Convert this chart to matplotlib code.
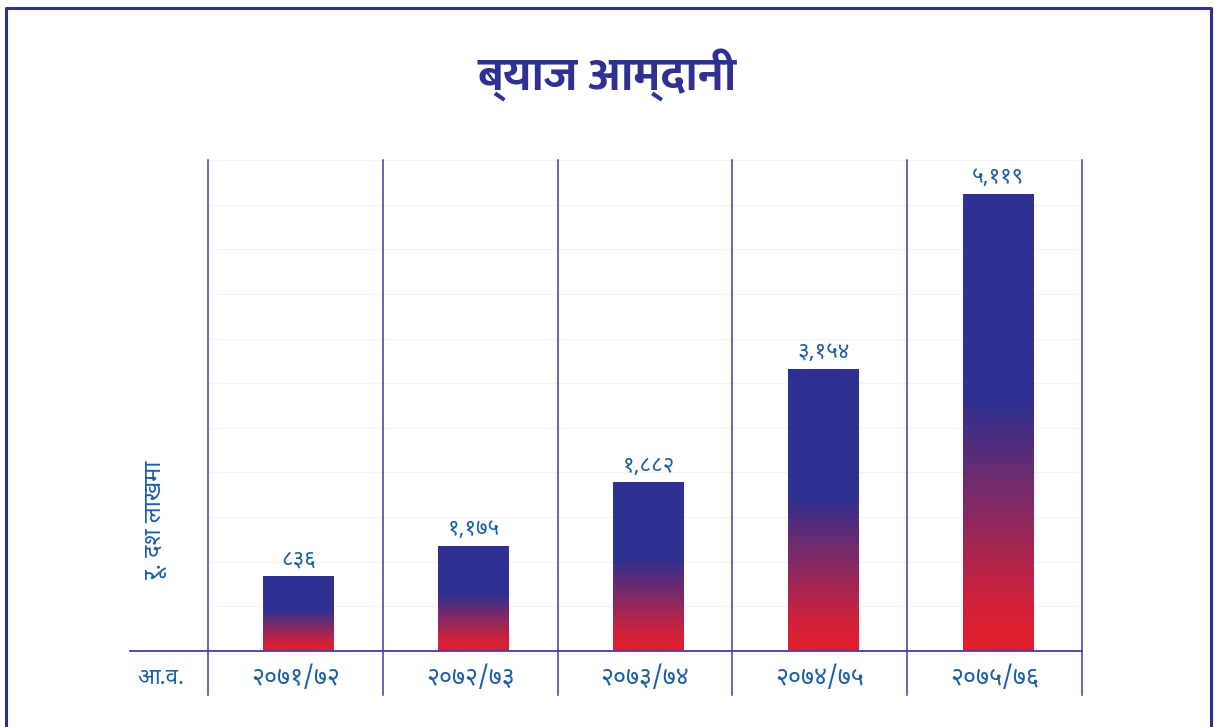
import numpy as np
import matplotlib
matplotlib.use("Agg")
import matplotlib.pyplot as plt
from matplotlib import font_manager
from matplotlib.colors import LinearSegmentedColormap
from matplotlib.lines import Line2D

# data
years = ["२०७१/७२", "२०७२/७३", "२०७३/७४", "२०७४/७५", "२०७५/७६"]
values = [836, 1175, 1882, 3154, 5119]
title = "ब्याज आम्दानी"
ylabel = "रू. दश लाखमा"
xlabel = "आ.व."

# pick an installed Devanagari font
names = {f.name for f in font_manager.fontManager.ttflist}
fam = "DejaVu Sans"
for c in ["Noto Sans Devanagari", "Mukta", "Hind", "Ek Mukta", "Poppins", "FreeSans"]:
    if c in names:
        fam = c
        break
# title needs a real bold cut
tfam = fam
for c in ["Ek Mukta", "Mukta", "Hind", "Biryani"]:
    if c in names:
        tfam = c
        break
plt.rcParams['font.family'] = [fam, 'DejaVu Sans']

DEV = "०१२३४५६७८९"


def to_dev(n):
    s = f"{n:,}"
    return "".join(DEV[int(ch)] if ch.isdigit() else ch for ch in s)


dark = "#2e3192"
red = "#e31e2a"
txt = "#1b5ea9"
line = "#3f3f9e"

fig = plt.figure(figsize=(12.15, 7.27), dpi=100)
ax = fig.add_axes([208 / 1215, 1 - 651 / 727, 874 / 1215, 491 / 727])

cmap = LinearSegmentedColormap.from_list("g", [(0, red), (0.1, "#d2213a"), (0.55, dark), (1, dark)])
grad = np.linspace(1, 0, 256).reshape(-1, 1)
x = np.arange(len(years)) + 0.02
w = 0.405
for xi, v in zip(x, values):
    ax.imshow(grad, cmap=cmap, extent=(xi - w / 2, xi + w / 2, 0, v),
              aspect="auto", zorder=3, interpolation="bilinear")
    ax.text(xi, v + 70, to_dev(v), ha="center", va="bottom",
            fontsize=16, color=txt, zorder=4)

ax.set_xlim(-0.5, len(years) - 0.5)
ax.set_ylim(0, 5500)

# faint horizontal grid
for g in range(500, 5501, 500):
    ax.axhline(g, color="#f3f3f8", lw=0.8, zorder=1)

# vertical separators, going below the baseline
tr = ax.get_xaxis_transform()
for b in np.arange(-0.5, len(years), 1.0):
    ax.plot([b, b], [-0.0896, 1.0], transform=tr, color=line, lw=1.1,
            clip_on=False, zorder=2)
# baseline
ax.plot([-0.5 - 78 / 175, len(years) - 0.5], [0, 0], transform=tr,
        color=line, lw=1.3, clip_on=False, zorder=5)

for s in ax.spines.values():
    s.set_visible(False)
ax.set_xticks([])
ax.set_yticks([])

for xi, yl in zip(np.arange(len(years)), years):
    ax.text(xi, -0.055, yl, transform=tr, ha="center", va="center",
            fontsize=18, color=txt)

fig.text(161 / 1215, 1 - 679 / 727, xlabel, ha="center", va="center",
         fontsize=16, color=txt)
fig.text(155 / 1215, 1 - 520 / 727, ylabel, ha="center", va="center",
         rotation=90, fontsize=17, color=txt)
fig.text(607 / 1215, 1 - 75 / 727, title, ha="center", va="center",
         fontsize=34, fontweight="bold", color=dark,
         family=[tfam, 'DejaVu Sans'])

# outer frame (open at the bottom)
fx = [6 / 1215, 6 / 1215, 1211 / 1215, 1211 / 1215]
fy = [0, 1 - 8 / 727, 1 - 8 / 727, 0]
fig.add_artist(Line2D(fx, fy, transform=fig.transFigure, color=dark, lw=2.2))

fig.savefig("out.png", dpi=100)
